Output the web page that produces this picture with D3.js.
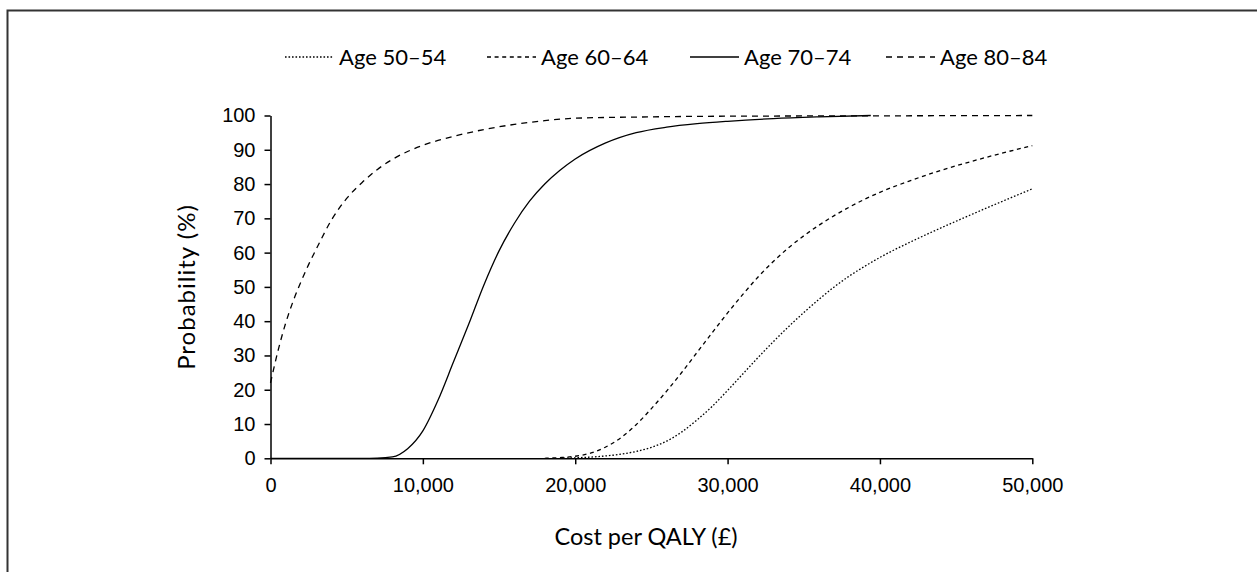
<!DOCTYPE html>
<html>
<head>
<meta charset="utf-8">
<script src="https://cdn.jsdelivr.net/npm/d3@7"></script>
<style>
  body { margin: 0; background: #fff; }
  svg { display: block; font-family: Lato, "Open Sans", sans-serif; }
  .axis path, .axis line { stroke: #000; stroke-width: 1.5; }
  .axis text { font-size: 20px; fill: #000; }
  .label { font-size: 19px; fill: #000; }
</style>
</head>
<body>
<svg id="chart"></svg>
<script>
var viewWidth = 1257;
var viewHeight = 572;

var margin = { top: 115.5, right: 225, bottom: 114, left: 270.5 };
var width = 1032.3 - margin.left;
var height = 458.3 - margin.top;

// cost per QALY (GBP) and probability (%)
var age5054Cost = [19000, 20000, 21000, 22000, 23000, 24000, 25000, 26000, 27000, 28000, 29000, 30000, 31000, 32000, 33000, 34000, 35000, 36000, 37000, 38000, 39000, 40000, 42000, 44000, 46000, 48000, 50000];
var age5054Prob = [0, 0.15, 0.35, 0.7, 1.2, 2.0, 3.2, 5.0, 7.7, 11.2, 15.2, 19.8, 24.6, 29.4, 34, 38.4, 42.5, 46.4, 50.0, 53.2, 56.0, 58.6, 63.1, 67.2, 71.1, 74.9, 78.6];

var age6064Cost = [18000, 19000, 20000, 21000, 22000, 23000, 24000, 25000, 26000, 27000, 28000, 29000, 30000, 31000, 32000, 33000, 34000, 35000, 36000, 37000, 38000, 40000, 42000, 44000, 46000, 48000, 50000];
var age6064Prob = [0, 0.2, 0.6, 1.5, 3.3, 6, 9.8, 14.5, 19.6, 25.1, 30.9, 36.7, 42.4, 47.8, 52.9, 57.4, 61.4, 64.9, 68.0, 70.8, 73.3, 77.6, 81.0, 84.0, 86.6, 89.0, 91.2];

var age7074Cost = [0, 6000, 7000, 8000, 9000, 10000, 11000, 12000, 13000, 14000, 15000, 16000, 17000, 18000, 19000, 20000, 22000, 24000, 26000, 28000, 30000, 33000, 36000, 39400];
var age7074Prob = [0, 0, 0.05, 0.4, 2.8, 8, 17, 28, 39, 50.5, 60.5, 68.5, 75, 80, 84, 87.3, 92, 95, 96.6, 97.6, 98.3, 99.1, 99.6, 100];

var age8084Cost = [0, 500, 1000, 1500, 2000, 2500, 3000, 4000, 5000, 6000, 7000, 8000, 9000, 10000, 12000, 14000, 16000, 18000, 20000, 25000, 30000, 40000, 50000];
var age8084Prob = [22, 31.5, 39.5, 46, 51.5, 56.5, 61, 69.5, 75.8, 80.4, 84.2, 87.2, 89.5, 91.3, 93.9, 95.9, 97.4, 98.5, 99.2, 99.6, 99.8, 99.9, 100];

var seriesNames = ["Age 50\u201354", "Age 60\u201364", "Age 70\u201374", "Age 80\u201384"];
var seriesCosts = [age5054Cost, age6064Cost, age7074Cost, age8084Cost];
var seriesProbs = [age5054Prob, age6064Prob, age7074Prob, age8084Prob];
var seriesDash = ["1.6,1.9", "4,3.6", null, "6,5"];

var xTicks = [0, 10000, 20000, 30000, 40000, 50000];
var yTicks = [0, 10, 20, 30, 40, 50, 60, 70, 80, 90, 100];

var svg = d3.select("#chart")
    .attr("width", viewWidth)
    .attr("height", viewHeight);

// frame, only top and left edges are inside the picture
svg.append("rect")
    .attr("x", 7.5)
    .attr("y", 10.5)
    .attr("width", viewWidth + 20)
    .attr("height", viewHeight + 20)
    .attr("fill", "none")
    .attr("stroke", "#333")
    .attr("stroke-width", 2);

var chart = svg.append("g")
    .attr("transform", "translate(" + margin.left + "," + margin.top + ")");

var x = d3.scaleLinear().domain([0, 50000]).range([0, width]);
var y = d3.scaleLinear().domain([0, 100]).range([height, 0]);

var xAxis = d3.axisBottom(x)
    .tickValues(xTicks)
    .tickSize(6)
    .tickSizeOuter(0)
    .tickPadding(14)
    .tickFormat(d3.format(","));

var yAxis = d3.axisLeft(y)
    .tickValues(yTicks)
    .tickSize(6)
    .tickSizeOuter(0)
    .tickPadding(9);

var line = d3.line()
    .x(function (d) { return x(d[0]); })
    .y(function (d) { return y(d[1]); })
    .curve(d3.curveMonotoneX);

seriesNames.forEach(function (name, i) {
    var pts = seriesCosts[i].map(function (c, j) { return [c, seriesProbs[i][j]]; });
    chart.append("path")
        .datum(pts)
        .attr("fill", "none")
        .attr("stroke", "#000")
        .attr("stroke-width", 1.3)
        .attr("stroke-dasharray", seriesDash[i])
        .attr("d", line);
});

chart.append("g")
    .attr("class", "x axis")
    .attr("transform", "translate(0," + height + ")")
    .call(xAxis);

chart.append("g")
    .attr("class", "y axis")
    .call(yAxis);

svg.append("text")
    .attr("class", "label")
    .attr("x", 646)
    .attr("y", 545)
    .style("text-anchor", "middle")
    .style("font-size", "23.5px")
    .text("Cost per QALY (\u00a3)");

svg.append("text")
    .attr("class", "label")
    .attr("transform", "translate(195,287) rotate(-90)")
    .style("text-anchor", "middle")
    .style("font-size", "24px")
    .style("letter-spacing", "1px")
    .text("Probability (%)");

// legend
var legendX = [285, 487, 690, 886];
var legend = svg.append("g");
seriesNames.forEach(function (name, i) {
    var g = legend.append("g").attr("transform", "translate(" + legendX[i] + ",57)");
    g.append("line")
        .attr("x1", 0).attr("x2", 49)
        .attr("y1", 0).attr("y2", 0)
        .attr("stroke", "#000")
        .attr("stroke-width", 1.3)
        .attr("stroke-dasharray", seriesDash[i]);
    g.append("text")
        .attr("class", "label")
        .attr("x", 54)
        .attr("y", 8)
        .style("font-size", "22px")
        .text(name);
});
</script>
</body>
</html>
